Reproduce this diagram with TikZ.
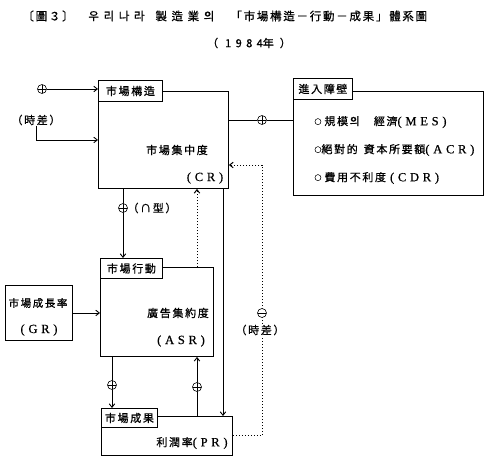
\documentclass[tikz,border=0pt]{standalone}
\usepackage{fontspec}
\setmainfont{Liberation Serif}
\newfontfamily\kr[LetterSpace=15,FakeBold=0.8]{Noto Sans CJK KR}
\newfontfamily\krw[LetterSpace=40,FakeBold=0.8]{Noto Sans CJK KR}
\newfontfamily\lat[LetterSpace=30,FakeBold=0.6]{Liberation Serif}
\newcommand\la[1]{{\fontsize{12.5}{13}\selectfont\lat #1}}
\newcommand\smo{\raisebox{1pt}{\fontsize{7}{7}\selectfont ○}}
\usetikzlibrary{arrows.meta}
\begin{document}
\begin{tikzpicture}[x=1pt,y=-1pt,
  line width=0.9pt,
  >={Straight Barb[length=3.5pt,width=5.5pt]},
  every node/.style={font=\fontsize{11}{13}\selectfont\kr, inner sep=0pt},
  box/.style={draw, anchor=north west},
  hdr/.style={draw, fill=white, anchor=north west},
  dot/.style={line width=1pt, dash pattern=on 1.5pt off 1.5pt},
  sgn/.style={circle, draw, fill=white, minimum size=9pt, line width=0.6pt},
  plus/.style={sgn, path picture={\draw[line width=0.6pt]
     (path picture bounding box.north) -- (path picture bounding box.south)
     (path picture bounding box.west) -- (path picture bounding box.east);}},
  minus/.style={sgn, path picture={\draw[line width=0.6pt]
     (path picture bounding box.west) -- (path picture bounding box.east);}}
]
\useasboundingbox (0,0) rectangle (492,460);

% title
\node[anchor=west, font=\fontsize{11.5}{13}\selectfont\kr] (t1) at (22,16) {〔圖３〕};
\node[anchor=west, font=\fontsize{11.5}{13}\selectfont\krw] (t2) at (88,16) {우리나라};
\node[anchor=west, font=\fontsize{11.5}{13}\selectfont\krw] (t3) at (155,16) {製造業의};
\node[anchor=west, font=\fontsize{11.5}{13}\selectfont\kr] (t4) at (230,16) {「市場構造－行動－成果」體系圖};
\node (sub) at (249,43) {（\hspace{7pt}{\krw 1984}年\hspace{6pt}）};

% boxes
\node[box, minimum width=130pt, minimum height=97pt] (cr) at (98,91) {};
\node[hdr, minimum width=64pt, minimum height=21pt] (hcr) at (98,80) {市場構造};
\node (crt) at (177,150) {市場集中度};
\node (crl) at (205,178) {\la{(CR)}};

\node[box, minimum width=190pt, minimum height=104pt] (ent) at (293,91) {};
\node[hdr, minimum width=59pt, minimum height=21pt] (hent) at (293,78) {進入障壁};
\node[anchor=west] (m1) at (314,122) {\smo\hspace{3pt}規模의\hspace{14pt}經濟\la{(MES)}};
\node[anchor=west] (m2) at (314,150) {\smo 絕對的\hspace{6pt}資本所要額\la{(ACR)}};
\node[anchor=west] (m3) at (314,178) {\smo\hspace{3pt}費用不利度\hspace{4pt}\la{(CDR)}};

\node[box, minimum width=113pt, minimum height=89pt] (asr) at (100,267) {};
\node[hdr, minimum width=62pt, minimum height=20pt] (hasr) at (100,258) {市場行動};
\node (asrt) at (178,313) {廣告集約度};
\node (asrl) at (181,341) {\la{(ASR)}};

\node[box, minimum width=67pt, minimum height=55pt] (gr) at (5,285) {};
\node[font=\fontsize{10.5}{13}\selectfont\kr] (grt) at (38,303) {市場成長率};
\node (grl) at (39,330) {\la{(GR)}};

\node[box, minimum width=131pt, minimum height=39pt] (pr) at (101,416) {};
\node[hdr, minimum width=56pt, minimum height=19pt] (hpr) at (101,408) {市場成果};
\node (prt) at (192,443) {利潤率\la{(PR)}};

% left inputs
\node[plus] (p1) at (42,89) {};
\draw[->] (p1) -- (p1 -| hcr.west);
\node (lag1) at (36,120) {（時差）};
\draw[->] (lag1.south) |- (cr.west);

% CR -> entry barriers
\node[plus] (p2) at (262,120) {};
\draw (cr.east |- p2) -- (p2) -- (p2 -| ent.west);

% CR -> ASR
\coordinate (xa) at (123,0);
\draw[->] (cr.south -| xa) -- (hasr.north -| xa);
\node[plus] (p3) at (123,208) {};
\node (nt) at (152,208) {（∩型）};

% ASR -> CR dotted
\coordinate (xb) at (197,0);
\draw[dot,->] (asr.north -| xb) -- (cr.south -| xb);

% CR -> PR solid
\coordinate (xc) at (223,0);
\draw[->] (cr.south -| xc) -- (pr.north -| xc);

% GR -> ASR
\draw[->] (gr.east) -- (gr.east -| asr.west);

% ASR -> PR
\coordinate (xd) at (112,0);
\draw[->] (asr.south -| xd) -- (hpr.north -| xd);
\node[plus] (p4) at (112,385) {};

% PR -> ASR
\draw[->] (pr.north -| xb) -- (asr.south -| xb);
\node[plus] (p5) at (197,387) {};

% PR -> CR dotted feedback
\coordinate (d2) at (262,165);
\draw[dot,->] (pr.east) -| (d2) -- (d2 -| cr.east);
\node[minus] (m) at (262,313) {};
\node[fill=white, inner sep=1pt] (lag2) at (260,330) {（時差）};
\end{tikzpicture}
\end{document}
